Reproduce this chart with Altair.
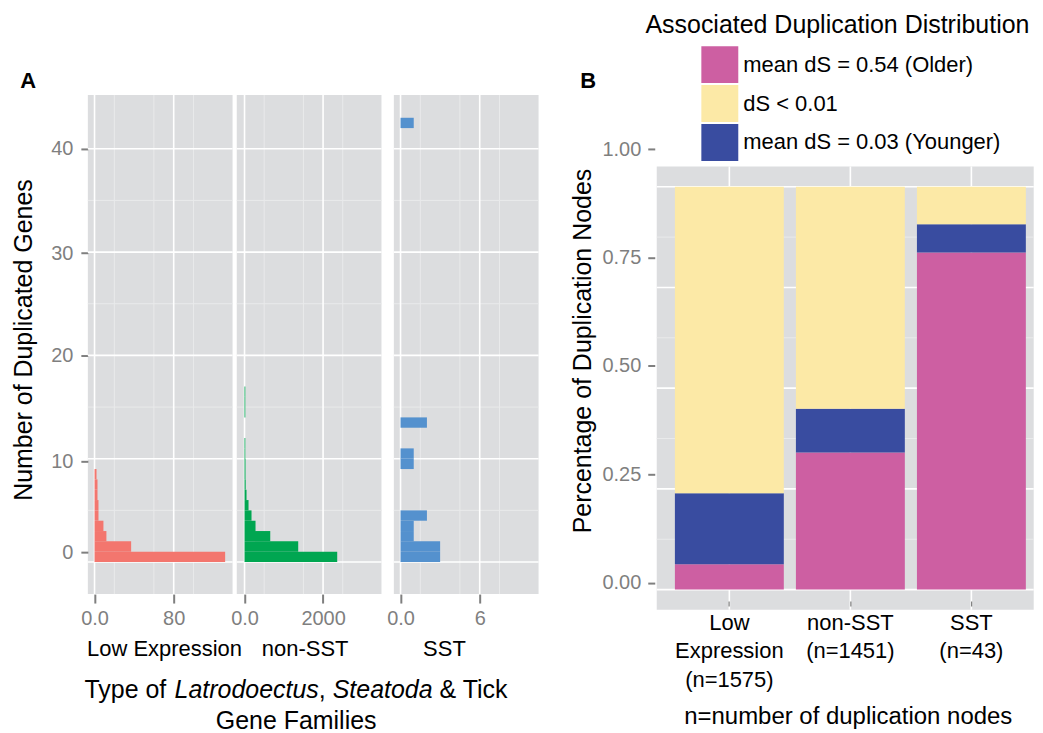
import altair as alt
import pandas as pd

# ---------------- data ----------------
# Panel A: histogram bins (number of duplicated genes, bin width 1) -> number of gene families
low_bins = [0, 1, 2, 3, 4, 5, 6, 7, 8]
low_counts = [132, 37, 12, 9, 4, 4, 3, 3, 2]
non_bins = [0, 1, 2, 3, 4, 5, 6, 7, 8, 9, 10, 11, 14, 15, 16]
non_counts = [2360, 1367, 655, 280, 178, 102, 51, 30, 25, 25, 20, 20, 20, 20, 20]
sst_bins = [0, 1, 2, 3, 4, 9, 10, 13, 42]
sst_counts = [3, 3, 1, 1, 2, 1, 1, 2, 1]
facets = ["Low Expression", "non-SST", "SST"]

a_y_major = [0, 10, 20, 30, 40]
a_y_minor = [5, 15, 25, 35]
low_x_major, low_x_minor = [0, 80], [20, 60, 100]
non_x_major, non_x_minor = [0, 2000], [500, 1500, 2500]
sst_x_major, sst_x_minor = [0, 6], [1.5, 4.5, 7.5]

# Panel B: share of duplication nodes per dS class
b_cats = ["Low\nExpression\n(n=1575)", "non-SST\n(n=1451)", "SST\n(n=43)"]
ds_classes = ["mean dS = 0.54 (Older)", "dS < 0.01", "mean dS = 0.03 (Younger)"]
older = [0.063, 0.340, 0.837]
younger = [0.176, 0.109, 0.070]
recent = [0.761, 0.551, 0.093]
b_y_major = [0, 0.25, 0.5, 0.75, 1.0]
b_y_minor = [0.125, 0.375, 0.625, 0.875]

# ---------------- style ----------------
FONT = "Liberation Sans"
BG = "#DCDDDF"
MINOR = "#E9EAEB"
GRAY = "#7F7F7F"
RED, GREEN, BLUE = "#F3766E", "#00A651", "#5491CE"
MAG, YEL, NAVY = "#CD5FA2", "#FCE9A6", "#394CA0"

PW, PH = 145, 500          # panel A facet size
A_YDOM = [-3.1, 45.2]
# where the tick labels of panel A sit (the published figure has them slightly shifted)
A_LABEL_RANGE = [458.3, 366.7, 261, 158.3, 54]
W_B, H_B, B_TOP = 377.7, 515.7, 71.7

# Arial / Liberation Sans advance widths (per 1000 em) for the mixed-style title
AW = {" ": 278, ",": 278, "&": 667, "T": 611, "y": 500, "p": 556, "e": 556, "o": 556,
      "f": 278, "L": 556, "a": 556, "t": 278, "r": 333, "d": 556, "c": 500, "u": 556,
      "s": 500, "S": 667, "i": 222, "k": 500}


def adv(s, fs):
    return sum(AW.get(c, 556) for c in s) / 1000.0 * fs


def note(text, x, y, size, weight="normal", style="normal", align="center"):
    return alt.Chart(pd.DataFrame({"t": [text]})).mark_text(
        fontSize=size, fontWeight=weight, fontStyle=style, align=align,
        baseline="middle", color="black"
    ).encode(text="t:N", x=alt.value(x), y=alt.value(y))


def hist_panel(bins, counts, color, x_domain, x_major, x_minor, name, name_x, extras=()):
    d = pd.DataFrame({"lo": bins, "n": counts})
    d["hi"] = d["lo"] + 1
    d["base"] = 0
    xs = alt.Scale(domain=x_domain, nice=False, zero=False)
    ys = alt.Scale(domain=A_YDOM, nice=False, zero=False)
    xaxis = alt.Axis(values=x_major, format="d",
                     labelExpr="datum.value == 0 ? '0.0' : datum.label",
                     grid=False, domain=False, tickSize=9, tickWidth=2, tickColor=GRAY,
                     labelColor=GRAY, labelFontSize=20, labelPadding=5,
                     title=name, titleFontSize=22, titleFontWeight="normal", titleColor="black",
                     titleBaseline="middle", titleX=name_x, titleY=54.3)

    def vrules(vals, col, w):
        return alt.Chart(pd.DataFrame({"v": vals})).mark_rule(color=col, strokeWidth=w).encode(
            x=alt.X("v:Q", scale=xs, axis=xaxis))

    def hrules(vals, col, w):
        return alt.Chart(pd.DataFrame({"v": vals})).mark_rule(color=col, strokeWidth=w).encode(
            y=alt.Y("v:Q", scale=ys, axis=None))

    bars = alt.Chart(d).mark_rect(color=color).encode(
        x=alt.X("base:Q", scale=xs, axis=xaxis),
        x2="n:Q",
        y=alt.Y("lo:Q", scale=ys, axis=None),
        y2="hi:Q",
    )
    return alt.layer(
        vrules(x_minor, MINOR, 1), hrules(a_y_minor, MINOR, 1),
        vrules(x_major, "white", 1.6), hrules(a_y_major, "white", 1.6),
        bars, *extras
    )


# ---- Panel A annotations ("A" and the mixed italic x title) ----
a_notes = [note("A", -59.8, -13.7, 22, weight="bold")]
line1 = "Type of Latrodoectus, Steatoda & Tick"
pieces = [("Type of", "normal"), ("Latrodoectus", "italic"), (",", "normal"),
          ("Steatoda", "italic"), ("& Tick", "normal")]
TFS = 25
x0 = 209.2 - adv(line1, TFS) / 2
pos = 0
for txt, st in pieces:
    idx = line1.index(txt, pos)
    a_notes.append(note(txt, x0 + adv(line1[:idx], TFS), 596.0, TFS, style=st, align="left"))
    pos = idx + len(txt)
a_notes.append(note("Gene Families", 208.7, 627.5, TFS))

ylab_a = alt.Chart(pd.DataFrame({"v": [0, 40]})).mark_point(opacity=0).encode(
    y=alt.Y("v:Q", scale=alt.Scale(domain=a_y_major, range=A_LABEL_RANGE, nice=False, zero=False),
            axis=alt.Axis(orient="left", values=a_y_major, format="d", grid=False, domain=False,
                          tickSize=7, tickWidth=2, tickColor=GRAY, labelColor=GRAY,
                          labelFontSize=20, labelPadding=8,
                          title="Number of Duplicated Genes", titleFontSize=25,
                          titleFontWeight="normal", titleColor="black", titleBaseline="middle",
                          titleX=-64, titleY=245)))

low = alt.layer(
    hist_panel(low_bins, low_counts, RED, [-6.76, 139.5], low_x_major, low_x_minor,
               facets[0], 76.3, a_notes),
    ylab_a,
).resolve_scale(y="independent").properties(width=PW, height=PH)
non = hist_panel(non_bins, non_counts, GREEN, [-198, 3487], non_x_major, non_x_minor,
                 facets[1], 68).properties(width=PW, height=PH)
sst = hist_panel(sst_bins, sst_counts, BLUE, [-0.507, 10.46], sst_x_major, sst_x_minor,
                 facets[2], 50.2).properties(width=PW, height=PH)

# ---- Panel B ----
rows = []
for i, c in enumerate(b_cats):
    rows.append({"cat": c, "cls": ds_classes[0], "frac": older[i], "ord": 0})
    rows.append({"cat": c, "cls": ds_classes[2], "frac": younger[i], "ord": 1})
    rows.append({"cat": c, "cls": ds_classes[1], "frac": recent[i], "ord": 2})
bdf = pd.DataFrame(rows)

xs_b = alt.Scale(domain=b_cats, paddingInner=0.1, paddingOuter=0.1075, align=0.698)
ys_b = alt.Scale(domain=[-0.05, 1.05], range=[H_B, B_TOP], nice=False, zero=False)

bx_axis = alt.Axis(title="n=number of duplication nodes",
                   labelExpr="split(datum.label, '\\n')", labelFontSize=22, labelColor="black",
                   labelLineHeight=28.5, labelPadding=6.5, labelAngle=0, domain=False, grid=False,
                   tickSize=5, tickColor=GRAY, tickWidth=1.2, offset=-8.7, zindex=1,
                   titleFontSize=24, titleFontWeight="normal", titleColor="black",
                   titleBaseline="middle", titleX=191.4, titleY=116)

bg = alt.Chart(pd.DataFrame({"t": [0]})).mark_rect(color=BG).encode(
    x=alt.value(0), x2=alt.value(W_B), y=alt.value(B_TOP), y2=alt.value(H_B))
vgrid = alt.Chart(pd.DataFrame({"c": b_cats})).mark_rule(color="white", strokeWidth=1.6).encode(
    x=alt.X("c:N", scale=xs_b, bandPosition=0.5, axis=bx_axis),
    y=alt.value(B_TOP), y2=alt.value(H_B))
hmin = alt.Chart(pd.DataFrame({"v": b_y_minor})).mark_rule(color=MINOR, strokeWidth=1).encode(
    y=alt.Y("v:Q", scale=ys_b, axis=None))
hmaj = alt.Chart(pd.DataFrame({"v": b_y_major})).mark_rule(color="white", strokeWidth=1.6).encode(
    y=alt.Y("v:Q", scale=ys_b, axis=None))

bars_b = alt.Chart(bdf).mark_bar().encode(
    x=alt.X("cat:N", scale=xs_b, axis=bx_axis),
    y=alt.Y("frac:Q", scale=ys_b, stack="zero", axis=None),
    color=alt.Color("cls:N", scale=alt.Scale(domain=ds_classes, range=[MAG, YEL, NAVY]),
                    legend=alt.Legend(orient="none", legendX=44.7, legendY=-49, title=None,
                                      symbolType="square", symbolSize=1369, symbolStrokeWidth=0,
                                      symbolOpacity=1, labelFontSize=22, labelColor="black",
                                      labelOffset=5, rowPadding=2, padding=0, labelLimit=400)),
    order=alt.Order("ord:Q"),
)

ylab_b = alt.Chart(pd.DataFrame({"v": [0, 1]})).mark_point(opacity=0).encode(
    y=alt.Y("v:Q", scale=alt.Scale(domain=[0, 1], range=[488.7, 54.2], nice=False, zero=False),
            axis=alt.Axis(orient="left", values=b_y_major, format=".2f", grid=False, domain=False,
                          offset=2, tickSize=7, tickWidth=2, tickColor=GRAY, labelColor=GRAY,
                          labelFontSize=20, labelPadding=7,
                          title="Percentage of Duplication Nodes", titleFontSize=25,
                          titleFontWeight="normal", titleColor="black", titleBaseline="middle",
                          titleX=-71.9, titleY=256)))

b_inner = alt.layer(bg, vgrid, hmin, hmaj, bars_b,
                    note("B", -68.6, -14.2, 22, weight="bold"),
                    note("Associated Duplication Distribution", -11.3, -70.5, 25, align="left"))
panel_b = alt.layer(b_inner, ylab_b).resolve_scale(y="independent").properties(
    width=W_B, height=H_B, view=alt.ViewBackground(fill="transparent", strokeWidth=0))


def spacer(w):
    return alt.Chart(pd.DataFrame({"t": [0]})).mark_point(opacity=0).encode(
        x=alt.value(0), y=alt.value(0)).properties(
        width=w, height=10, view=alt.ViewBackground(fill="transparent", strokeWidth=0))


chart = alt.hconcat(
    low, non, spacer(3.2), sst, spacer(109.8), panel_b,
    spacing=4.2, bounds="flush",
    padding={"left": 4, "top": 3.5, "right": 0, "bottom": 0},
).resolve_scale(color="independent").configure(font=FONT).configure_view(fill=BG, strokeWidth=0)

chart.save("out.html", embed_options={"renderer": "svg", "actions": False})
